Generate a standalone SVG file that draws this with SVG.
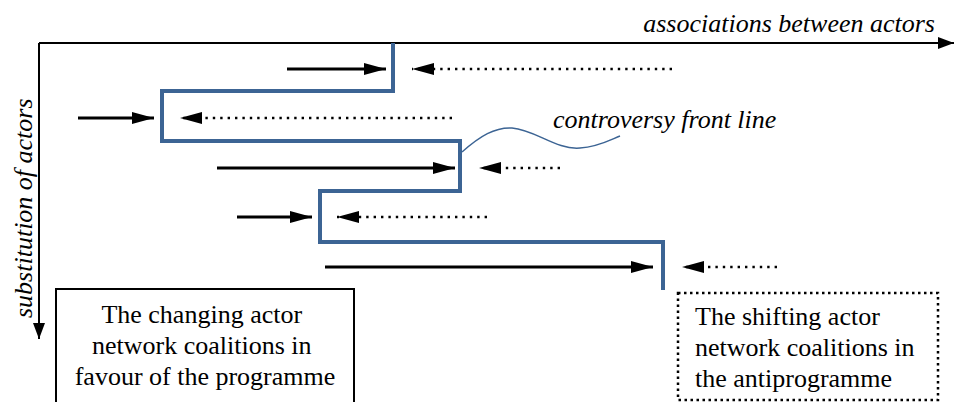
<svg xmlns="http://www.w3.org/2000/svg" width="955" height="402" viewBox="0 0 955 402">
  <defs>
    <marker id="head" viewBox="0 0 22 12" refX="22" refY="6" markerWidth="22" markerHeight="12" markerUnits="userSpaceOnUse" orient="auto">
      <path d="M0,0 L22,6 L0,12 Z" fill="#000"/>
    </marker>
    <marker id="axhead" viewBox="0 0 16 12" refX="16" refY="6" markerWidth="16" markerHeight="12" markerUnits="userSpaceOnUse" orient="auto">
      <path d="M0,0 L16,6 L0,12 Z" fill="#000"/>
    </marker>
  </defs>

  <!-- axes -->
  <g id="axes">
    <g fill="none" stroke="#000" stroke-width="2" marker-end="url(#axhead)">
      <path d="M39,43 L954,43"/>
      <path d="M39,43 L39,339"/>
    </g>
    <text x="935" y="32" text-anchor="end" style="font-family:'Liberation Serif',serif !important;font-style:italic;font-size:26px" fill="#000">associations between actors</text>
    <text transform="translate(32,318) rotate(-90)" style="font-family:'Liberation Serif',serif !important;font-style:italic;font-size:26px" fill="#000">substitution of actors</text>
  </g>

  <!-- controversy front line -->
  <g id="front-line">
    <path d="M393,43 L393,91 L162,91 L162,141 L460,141 L460,191 L320,191 L320,242 L663,242 L663,290" fill="none" stroke="#3C6494" stroke-width="4"/>
    <path d="M462,152 C480,136 495,127 512,128 C536,130 556,150 580,148 C598,147 610,140 620,136" fill="none" stroke="#3C6494" stroke-width="1.5"/>
    <text x="553" y="128" style="font-family:'Liberation Serif',serif !important;font-style:italic;font-size:26px" fill="#000">controversy front line</text>
  </g>

  <!-- associations and counter-moves -->
  <g id="connectors" fill="none" stroke="#000" marker-end="url(#head)">
    <g stroke-width="3">
      <path d="M287,69 L386,69"/>
      <path d="M78,118 L154,118"/>
      <path d="M217,168 L455,168"/>
      <path d="M237,217 L312,217"/>
      <path d="M325,267 L653,267"/>
    </g>
    <g stroke-width="2.5" stroke-dasharray="2.4 5">
      <path d="M672,69 L412,69"/>
      <path d="M452,118 L180,118"/>
      <path d="M560,168 L479,168"/>
      <path d="M487,217 L337,217"/>
      <path d="M777,267 L682,267"/>
    </g>
  </g>

  <!-- coalition boxes -->
  <g id="programme">
    <rect x="56" y="289" width="298" height="120" fill="#fff" stroke="#000" stroke-width="2"/>
    <text style="font-family:'Liberation Serif',serif !important;font-size:26px" fill="#000" text-anchor="middle">
      <tspan x="205" y="323">The changing actor</tspan>
      <tspan x="205" y="354">network coalitions in</tspan>
      <tspan x="205" y="385">favour of the programme</tspan>
    </text>
  </g>
  <g id="antiprogramme">
    <rect x="678" y="293" width="260" height="107" fill="#fff" stroke="#000" stroke-width="2.5" stroke-dasharray="2.5 3.5"/>
    <text style="font-family:'Liberation Serif',serif !important;font-size:26px" fill="#000">
      <tspan x="695" y="325">The shifting actor</tspan>
      <tspan x="695" y="356">network coalitions in</tspan>
      <tspan x="695" y="387">the antiprogramme</tspan>
    </text>
  </g>
</svg>
